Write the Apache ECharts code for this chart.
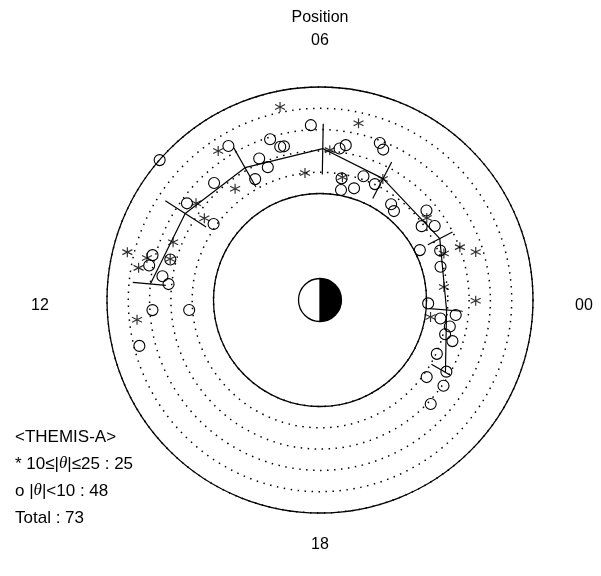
<!DOCTYPE html>
<html>
<head>
<meta charset="utf-8">
<script src="https://cdn.jsdelivr.net/npm/echarts@6/dist/echarts.min.js"></script>
<style>
  html, body { margin: 0; background: #fff; }
  #main { width: 601px; height: 576px; }
</style>
</head>
<body>
<div id="main"></div>
<script>
// positions: MLT (hours) and radial distance (RE)
var starMLT = [6.78, 5.18, 8.29, 5.75, 6.45, 5.31, 4.17, 8.49, 9.47, 9.65, 8.25, 10.57, 11.07, 11.09, 10.98, 11.33, 12.41, 1.38, 1.14, 1.37, 0.40, 23.98, 23.42, 2.50]
var starR   = [9.25, 8.49, 8.47, 7.05, 6.00, 5.86, 6.40, 6.57, 7.38, 6.65, 4.97, 7.41, 9.32, 8.36, 7.29, 8.65, 8.64, 7.02, 7.65, 6.21, 5.85, 7.31, 5.25, 6.32]

var circMLT = [9.26, 8.05, 7.15, 6.97, 6.88, 6.20, 7.55, 7.43, 8.81, 7.88, 9.60, 9.63, 11.00, 11.24, 10.99, 11.43, 11.60, 12.23, 12.29, 12.95,
               5.51, 5.37, 4.61, 4.48, 5.33, 5.28, 4.87, 4.71, 4.31, 3.56, 3.35, 2.67, 2.40, 2.19, 1.77, 1.49, 1.03,
               23.88, 23.42, 23.58, 23.23, 22.98, 22.85, 22.35, 22.03, 21.61, 21.68, 21.12]
var circR   = [9.99, 8.41, 7.90, 7.43, 7.41, 8.22, 7.23, 6.70, 7.41, 6.44, 7.72, 6.14, 8.14, 8.18, 7.28, 7.48, 7.15, 7.88, 6.16, 8.75,
               7.17, 7.37, 7.89, 7.66, 5.80, 5.26, 5.48, 6.16, 6.02, 5.60, 5.43, 6.53, 5.90, 6.41, 5.24, 6.10, 5.87,
               5.08, 5.72, 6.41, 6.22, 6.09, 6.51, 6.04, 6.82, 6.18, 7.06, 7.13]

// binned medians with radial spread
var medMLT  = [11.64, 9.82, 7.97, 5.93, 4.17, 1.81, 23.70, 22.00]
var medR    = [8.00, 7.52, 7.14, 7.11, 6.42, 6.32, 5.96, 6.80]
var errLow  = [7.27, 6.35, 6.10, 5.89, 5.37, 5.69, 5.16, 6.04]
var errHigh = [8.83, 8.63, 8.25, 8.28, 7.30, 6.99, 6.72, 7.05]

var mltLabels = ['00', '06', '12', '18']
var earthHalves = [{ name: 'night', value: 1 }, { name: 'day', value: 1 }]

var cx = 320, cy = 300, rOuter = 213, rInner = 106.5
var labelPos = { '00': [584, 306], '06': [320, 41], '12': [40, 306], '18': [320, 545] }

var starPath = 'path://M0,-5L0,5M-4.33,-2.5L4.33,2.5M-4.33,2.5L4.33,-2.5'

var chart = echarts.init(document.getElementById('main'), null, { renderer: 'canvas' })

var texts = mltLabels.map(function (s) {
  return {
    type: 'text', x: labelPos[s][0], y: labelPos[s][1],
    style: { text: s, font: '16px "Liberation Sans", Arial, sans-serif', fill: '#000', align: 'center', verticalAlign: 'middle' }
  }
})
texts.push({
  type: 'text', x: 320, y: 18,
  style: { text: 'Position', font: '16px "Liberation Sans", Arial, sans-serif', fill: '#000', align: 'center', verticalAlign: 'middle' }
})
var legendLines = [
  '<THEMIS-A>',
  '* 10≤|{th|θ}|≤25 : 25',
  'o |{th|θ}|<10 : 48',
  'Total : 73'
]
legendLines.forEach(function (s, i) {
  texts.push({
    type: 'text', x: 15, y: 437 + i * 27,
    style: {
      text: s, fontFamily: '"Liberation Sans", Arial, sans-serif', fontSize: 17, fill: '#000',
      verticalAlign: 'middle',
      rich: { th: { fontFamily: '"Liberation Serif", "DejaVu Serif", serif', fontStyle: 'italic', fontSize: 17, fill: '#000' } }
    }
  })
})

var option = {
  animation: false,
  backgroundColor: '#fff',
  polar: { center: [cx, cy], radius: [rInner, rOuter] },
  angleAxis: {
    type: 'value', min: 0, max: 24, startAngle: 0, clockwise: false,
    axisLine: { show: true, lineStyle: { color: '#000', width: 1.3 } },
    axisTick: { show: false }, axisLabel: { show: false }, splitLine: { show: false }
  },
  radiusAxis: {
    type: 'value', min: 5, max: 10, interval: 1,
    axisLine: { show: false }, axisTick: { show: false }, axisLabel: { show: false },
    splitLine: { show: true, lineStyle: { color: '#000', width: 1.5, type: [1.5, 5.5] } }
  },
  graphic: texts,
  series: [
    {
      type: 'pie', center: [cx, cy], radius: 21.5, startAngle: 90, clockwise: true,
      label: { show: false }, labelLine: { show: false }, silent: true,
      itemStyle: { borderColor: '#000', borderWidth: 1.3 },
      color: ['#000', '#fff'],
      data: earthHalves
    },
    {
      type: 'line', coordinateSystem: 'polar', symbol: 'none',
      lineStyle: { color: '#000', width: 1.2 },
      data: medMLT.map(function (m, i) { return [medR[i], m] })
    },
    {
      type: 'custom', coordinateSystem: 'polar',
      data: medMLT.map(function (m, i) { return [errLow[i], m, errHigh[i]] }),
      renderItem: function (params, api) {
        var a = api.coord([api.value(0), api.value(1)])
        var b = api.coord([api.value(2), api.value(1)])
        return {
          type: 'line',
          shape: { x1: a[0], y1: a[1], x2: b[0], y2: b[1] },
          style: { stroke: '#000', lineWidth: 1.2 }
        }
      }
    },
    {
      type: 'scatter', coordinateSystem: 'polar', symbol: 'circle', symbolSize: 11,
      itemStyle: { color: 'rgba(0,0,0,0)', borderColor: '#000', borderWidth: 1.1, opacity: 1 },
      data: circMLT.map(function (m, i) { return [circR[i], m] })
    },
    {
      type: 'scatter', coordinateSystem: 'polar', symbol: starPath, symbolSize: 10,
      itemStyle: { color: 'none', borderColor: '#000', borderWidth: 1.2 },
      data: starMLT.map(function (m, i) { return [starR[i], m] })
    }
  ]
}
chart.setOption(option)
</script>
</body>
</html>
